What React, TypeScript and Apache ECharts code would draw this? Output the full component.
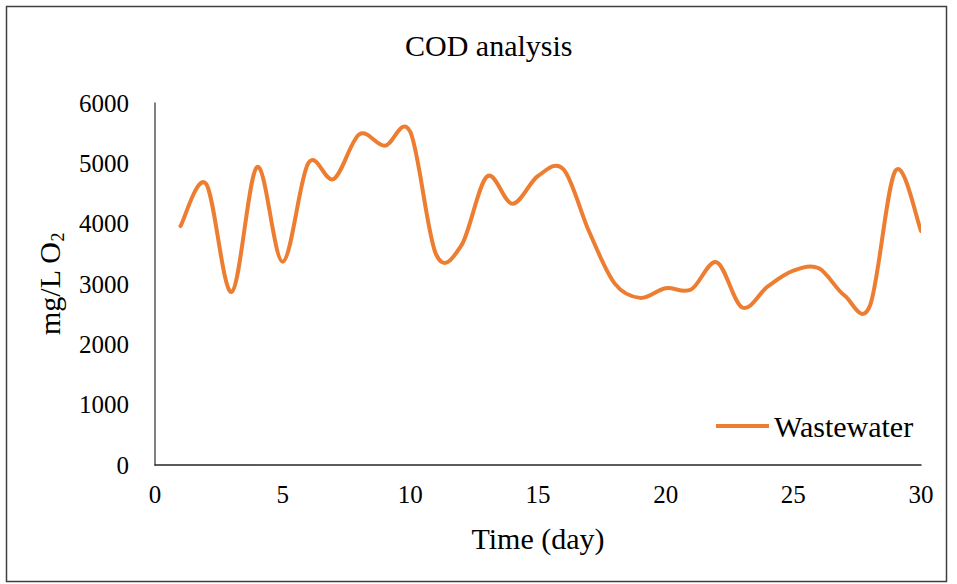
import React, { useEffect, useRef } from "react";
import * as echarts from "echarts";

const days = [1, 2, 3, 4, 5, 6, 7, 8, 9, 10, 11, 12, 13, 14, 15, 16, 17, 18, 19, 20, 21, 22, 23, 24, 25, 26, 27, 28, 29, 30];
const wastewater = [3960, 4660, 2870, 4940, 3370, 5000, 4740, 5480, 5290, 5520, 3500, 3640, 4780, 4330, 4790, 4900, 3870, 3010, 2770, 2930, 2910, 3360, 2610, 2960, 3220, 3260, 2810, 2640, 4880, 3880];
const seriesName = "Wastewater";
const titleText = "COD analysis";
const xName = "Time (day)";

const FONT = "Liberation Serif, Times New Roman, serif";

export default function App() {
  const ref = useRef<HTMLDivElement>(null);
  useEffect(() => {
    if (!ref.current) return;
    const chart = echarts.init(ref.current, null, { renderer: "svg" });
    const data = days.map((d, i) => [d, wastewater[i]]);
    const tickRich = { t: { fontFamily: FONT, fontSize: 25, color: "#000" } };
    chart.setOption({
      animation: false,
      backgroundColor: "#ffffff",
      textStyle: { fontFamily: FONT, color: "#000" },
      title: {
        text: titleText,
        left: 400,
        top: 25,
        textStyle: { fontFamily: FONT, fontSize: 30, fontWeight: "normal", color: "#000" },
      },
      legend: {
        data: [{ name: seriesName, icon: "rect", itemStyle: { color: "#ED7D31" } }],
        left: 711,
        top: 406,
        itemWidth: 53,
        itemHeight: 4,
        textStyle: { fontFamily: FONT, fontSize: 30, color: "#000" },
      },
      grid: { left: 155, right: 36, top: 103, bottom: 119, containLabel: false },
      xAxis: {
        type: "value",
        min: 0,
        max: 30,
        interval: 5,
        name: xName,
        nameLocation: "middle",
        nameGap: 58,
        nameTextStyle: { fontFamily: FONT, fontSize: 30, color: "#000" },
        axisLine: { show: true, onZero: false, lineStyle: { color: "#262626", width: 1.5 } },
        axisTick: { show: false },
        splitLine: { show: false },
        axisLabel: {
          fontFamily: FONT,
          fontSize: 25,
          color: "#000",
          margin: 17,
          formatter: (v: number) => "{t|" + v + "}",
          rich: tickRich,
        },
      },
      yAxis: {
        type: "value",
        min: 0,
        max: 6000,
        interval: 1000,
        name: "{a|mg/L O}{b|2}",
        nameLocation: "middle",
        nameGap: 88,
        nameRotate: 90,
        nameTextStyle: {
          rich: {
            a: { fontFamily: FONT, fontSize: 30, color: "#000", lineHeight: 36, verticalAlign: "middle" },
            b: { fontFamily: FONT, fontSize: 18, color: "#000", lineHeight: 36, verticalAlign: "bottom" },
          },
        },
        axisLine: { show: true, lineStyle: { color: "#595959", width: 1.5 } },
        axisTick: { show: false },
        splitLine: { show: false },
        axisLabel: {
          fontFamily: FONT,
          fontSize: 25,
          color: "#000",
          margin: 26,
          formatter: (v: number) => "{t|" + v + "}",
          rich: tickRich,
        },
      },
      graphic: [
        {
          type: "rect",
          shape: { x: 6.5, y: 6.5, width: 940, height: 575 },
          style: { fill: "none", stroke: "#404040", lineWidth: 1.5 },
          silent: true,
        },
      ],
      series: [
        {
          name: seriesName,
          type: "custom",
          data: data,
          itemStyle: { color: "#ED7D31" },
          encode: { x: 0, y: 1 },
          clip: true,
          renderItem: (params: any, api: any) => {
            if (params.dataIndex !== 0) return null;
            const pts = data.map((p) => api.coord(p));
            const n = pts.length;
            let d = `M${pts[0][0]},${pts[0][1]}`;
            for (let i = 0; i < n - 1; i++) {
              const p0 = pts[Math.max(0, i - 1)];
              const p1 = pts[i];
              const p2 = pts[i + 1];
              const p3 = pts[Math.min(n - 1, i + 2)];
              const c1x = p1[0] + (p2[0] - p0[0]) / 6;
              const c1y = p1[1] + (p2[1] - p0[1]) / 6;
              const c2x = p2[0] - (p3[0] - p1[0]) / 6;
              const c2y = p2[1] - (p3[1] - p1[1]) / 6;
              d += ` C${c1x},${c1y} ${c2x},${c2y} ${p2[0]},${p2[1]}`;
            }
            return {
              type: "path",
              shape: { pathData: d },
              style: { fill: "none", stroke: "#ED7D31", lineWidth: 4, lineJoin: "round", lineCap: "round" },
              silent: true,
            };
          },
        },
      ],
    });
    return () => chart.dispose();
  }, []);
  return <div ref={ref} style={{ position: "fixed", left: 0, top: 0, width: 957, height: 584 }} />;
}
